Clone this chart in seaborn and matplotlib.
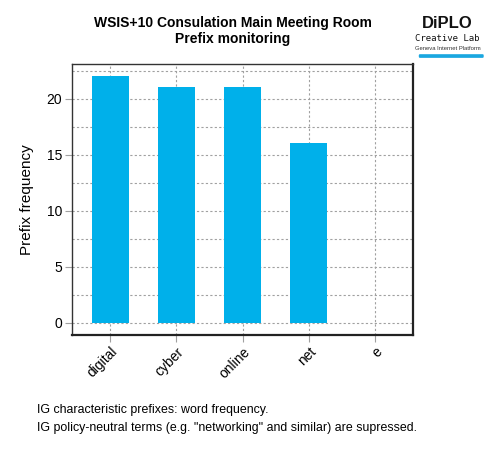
import numpy as np
import pandas as pd
import matplotlib
matplotlib.use("Agg")
import matplotlib.pyplot as plt
import seaborn as sns

# Data
prefixes = ["digital", "cyber", "online", "net", "e"]
frequency = [22, 21, 21, 16, 0]

df = pd.DataFrame({"prefix": prefixes, "freq": frequency})

sns.set_style("white")
plt.rcParams["font.family"] = ["Liberation Sans", "DejaVu Sans"]
plt.rcParams["text.color"] = "black"
plt.rcParams["axes.labelcolor"] = "black"
plt.rcParams["xtick.color"] = "black"
plt.rcParams["ytick.color"] = "black"

fig = plt.figure(figsize=(5, 4.5), dpi=100)
ax = fig.add_axes([0.144, 0.256, 0.682, 0.602])

sns.barplot(data=df, x="prefix", y="freq", color="#00B0EA", saturation=1,
            width=0.55, linewidth=0, ax=ax, zorder=3)

ax.set_xlim(-0.58, 4.58)
ax.set_ylim(-1.07, 23.1)
ax.set_yticks([0, 5, 10, 15, 20])
ax.set_yticks(np.arange(0, 23, 2.5), minor=True)
ax.grid(True, which="both", color="#a0a0a0", linestyle=(0, (2, 2)), linewidth=0.8, zorder=0)
ax.set_axisbelow(True)

ax.tick_params(axis="both", which="major", bottom=True, left=True, length=5,
               color="#a0a0a0", labelsize=10, pad=2)
ax.tick_params(axis="y", which="minor", length=0)
plt.setp(ax.get_xticklabels(), rotation=45, ha="right", rotation_mode="anchor")

for side in ["left", "top"]:
    ax.spines[side].set_color("#333333")
    ax.spines[side].set_linewidth(1.0)
for side in ["right", "bottom"]:
    ax.spines[side].set_color("#222222")
    ax.spines[side].set_linewidth(1.6)

ax.set_xlabel("")
ax.set_ylabel("Prefix frequency", fontsize=11, labelpad=9)

fig.text(0.466, 0.965, "WSIS+10 Consulation Main Meeting Room\nPrefix monitoring",
         ha="center", va="top", fontsize=10, fontweight="bold", linespacing=1.2)

# Logo
fig.text(0.895, 0.948, "DiPLO", ha="center", va="center", fontsize=12,
         fontweight="bold", color="#111111")
fig.text(0.895, 0.915, "Creative Lab", ha="center", va="center", fontsize=6.5,
         family="DejaVu Sans Mono", color="#111111")
fig.text(0.895, 0.892, "Geneva Internet Platform", ha="center", va="center",
         fontsize=4.2, color="#333333")
fig.patches.append(matplotlib.patches.FancyBboxPatch(
    (0.84, 0.874), 0.125, 0.003, boxstyle="round,pad=0.001",
    transform=fig.transFigure, color="#1aa7e0"))

# Footer
fig.text(0.074, 0.088, "IG characteristic prefixes: word frequency.", fontsize=8.9, va="center")
fig.text(0.074, 0.049, "IG policy-neutral terms (e.g. \"networking\" and similar) are supressed.",
         fontsize=8.9, va="center")

plt.savefig("out.png", dpi=100)
